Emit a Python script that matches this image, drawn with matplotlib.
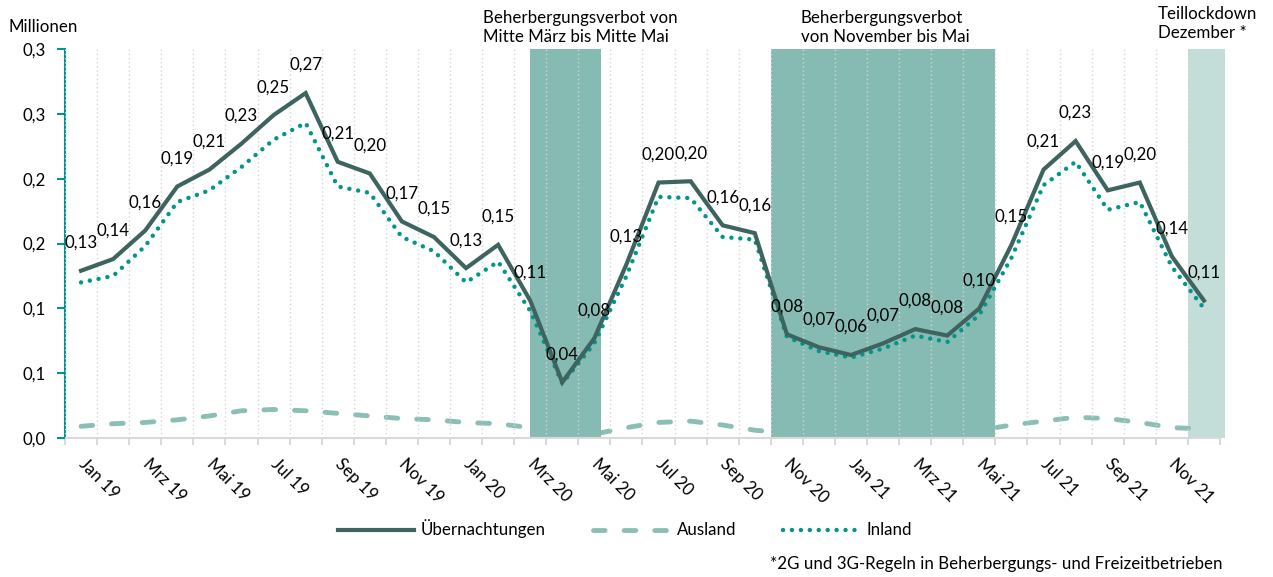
import matplotlib.pyplot as plt
import numpy as np

# Monatswerte Jan 19 - Dez 21 (Millionen Übernachtungen)
monate = ['Jan 19', 'Feb 19', 'Mrz 19', 'Apr 19', 'Mai 19', 'Jun 19', 'Jul 19', 'Aug 19', 'Sep 19', 'Okt 19', 'Nov 19', 'Dez 19',
          'Jan 20', 'Feb 20', 'Mrz 20', 'Apr 20', 'Mai 20', 'Jun 20', 'Jul 20', 'Aug 20', 'Sep 20', 'Okt 20', 'Nov 20', 'Dez 20',
          'Jan 21', 'Feb 21', 'Mrz 21', 'Apr 21', 'Mai 21', 'Jun 21', 'Jul 21', 'Aug 21', 'Sep 21', 'Okt 21', 'Nov 21', 'Dez 21']

uebernachtungen = [0.129, 0.138, 0.160, 0.194, 0.207, 0.227, 0.249, 0.266, 0.213, 0.204, 0.167, 0.155,
                   0.131, 0.149, 0.106, 0.043, 0.077, 0.134, 0.197, 0.198, 0.164, 0.158, 0.080, 0.070,
                   0.064, 0.073, 0.084, 0.079, 0.100, 0.149, 0.207, 0.229, 0.191, 0.197, 0.140, 0.106]

ausland = [0.009, 0.011, 0.012, 0.014, 0.017, 0.021, 0.022, 0.021, 0.019, 0.017, 0.015, 0.014,
           0.012, 0.011, 0.008, 0.001, 0.003, 0.008, 0.012, 0.013, 0.010, 0.006, 0.004, 0.004,
           0.003, 0.003, 0.004, 0.004, 0.006, 0.010, 0.013, 0.016, 0.015, 0.012, 0.008, 0.007]

inland = [0.120, 0.125, 0.148, 0.182, 0.191, 0.209, 0.230, 0.243, 0.194, 0.189, 0.155, 0.144,
          0.120, 0.136, 0.098, 0.042, 0.073, 0.125, 0.186, 0.185, 0.155, 0.153, 0.078, 0.067,
          0.062, 0.069, 0.079, 0.074, 0.095, 0.139, 0.195, 0.213, 0.176, 0.182, 0.132, 0.100]

# Zeiträume der Beschränkungen (in Monatsindex)
verbot_1 = (14.0, 16.2)
verbot_2 = (21.5, 28.5)
teillockdown = (34.5, 35.65)

plt.rcParams['font.family'] = ['Lato', 'DejaVu Sans']
plt.rcParams['font.size'] = 12.2

c_gesamt = '#3d645f'
c_ausland = '#8bbfb5'
c_inland = '#00968a'
c_band = '#86bbb3'
c_band_hell = '#c3ddd9'

fig = plt.figure(figsize=(12.73, 5.77), dpi=100)
ax = fig.add_axes([65 / 1273, 1 - 438 / 577, (1220 - 65) / 1273, (438 - 49) / 577])

x = np.arange(len(monate))

# Bänder
ax.axvspan(*teillockdown, ymin=0, ymax=1, color=c_band_hell, lw=0, zorder=1, clip_on=False)
ax.axvspan(*verbot_1, color=c_band, lw=0, zorder=2)
ax.axvspan(*verbot_2, color=c_band, lw=0, zorder=2)

# Linien
l_aus, = ax.plot(x, ausland, color=c_ausland, lw=3.5, dashes=(2.4, 3.9),
                 dash_capstyle='round', zorder=1.5, label='Ausland')
l_in, = ax.plot(x, inland, color=c_inland, lw=3.2, dashes=(0.01, 2.0),
                dash_capstyle='round', zorder=3, label='Inland')
l_ges, = ax.plot(x, uebernachtungen, color=c_gesamt, lw=3, zorder=3.5,
                 solid_joinstyle='miter', label='Übernachtungen')

# Datenbeschriftung
for i, v in enumerate(uebernachtungen):
    ax.annotate(f'{v:.2f}'.replace('.', ','), (i, v), xytext=(0, 28),
                textcoords='offset pixels', ha='center', va='center', zorder=5)

# Achsen
ax.set_xlim(-0.5, len(monate) - 0.5)
ax.set_ylim(0, 0.3)
yt = np.arange(0, 0.301, 0.05)
ax.set_yticks(yt, labels=[f'{v + 1e-9:.1f}'.replace('.', ',') for v in yt])
ax.tick_params(axis='y', length=6, width=1.5, color=c_inland, pad=8)

ax.set_xticks(np.arange(-0.5, len(monate), 1.0), labels=[])
ax.tick_params(axis='x', which='major', length=5, width=1.5, color='#d9d9d9')
ax.set_xticks(x[::2], labels=monate[::2], minor=True)
ax.tick_params(axis='x', which='minor', length=0, pad=17)
for lab in ax.get_xticklabels(minor=True):
    lab.set_rotation(-45)
    lab.set_ha('left')
    lab.set_va('center')
    lab.set_rotation_mode('anchor')

ax.set_axisbelow(False)
ax.grid(axis='x', which='major', color='#d4d4d4', linestyle=(0, (1, 2)), lw=1)

for s in ['top', 'right']:
    ax.spines[s].set_visible(False)
ax.spines['left'].set_color(c_inland)
ax.spines['left'].set_linewidth(1.5)
ax.spines['bottom'].set_color('#d9d9d9')
ax.spines['bottom'].set_linewidth(1.5)

# Hinweise
ax.text(12.53, 0.3166, 'Beherbergungsverbot von\nMitte März bis Mitte Mai', ha='left', va='center',
        linespacing=1.3, clip_on=False)
ax.text(22.44, 0.3166, 'Beherbergungsverbot\nvon November bis Mai', ha='left', va='center',
        linespacing=1.3, clip_on=False)
ax.text(33.57, 0.3197, 'Teillockdown\nDezember *', ha='left', va='center',
        linespacing=1.3, clip_on=False)

fig.text(8 / 1273, 1 - 27 / 577, 'Millionen', ha='left', va='center')
fig.text(1222 / 1273, 1 - 564 / 577, '*2G und 3G-Regeln in Beherbergungs- und Freizeitbetrieben',
         ha='right', va='center')

fig.legend(handles=[l_ges, l_aus, l_in], loc='center', bbox_to_anchor=(625 / 1273, 1 - 529 / 577),
           ncol=3, frameon=False, handlelength=4.5, columnspacing=2.8, handletextpad=0.4)

fig.savefig('out.png', dpi=100)
